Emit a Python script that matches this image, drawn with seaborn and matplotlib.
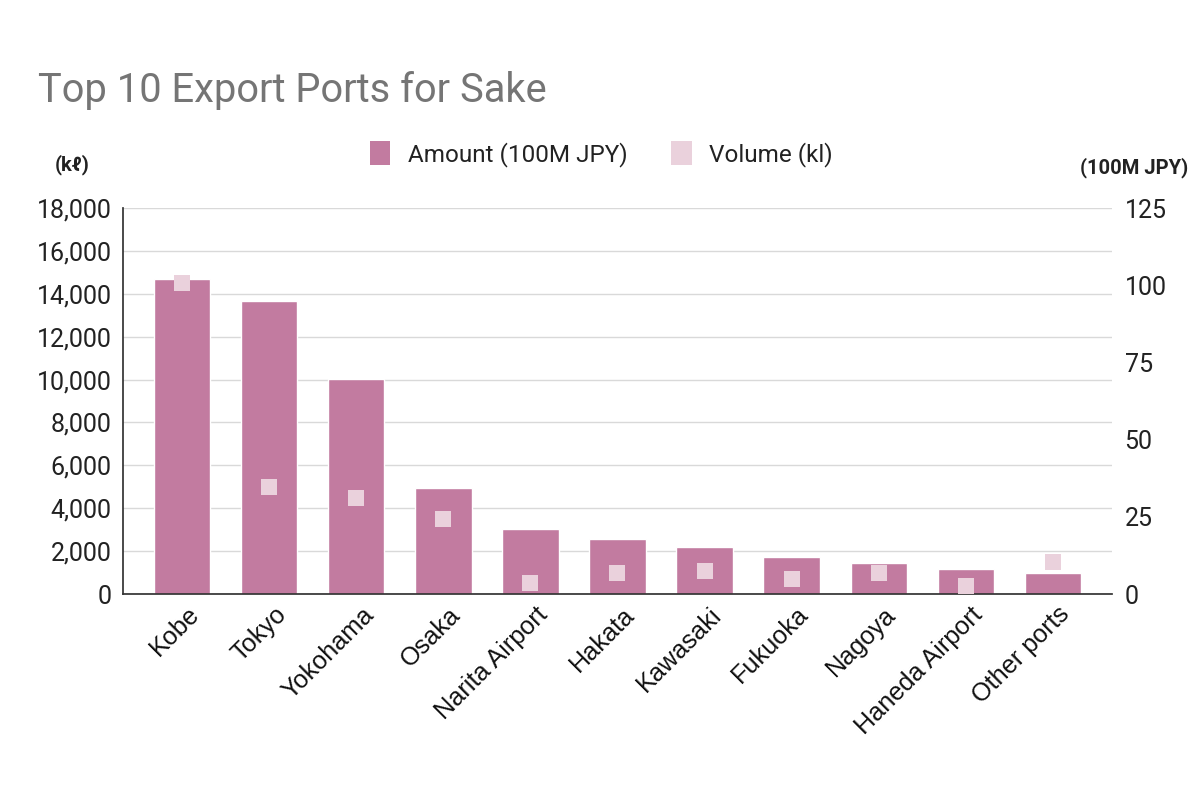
import matplotlib
matplotlib.use("Agg")
import matplotlib.pyplot as plt
import matplotlib.transforms as mtrans
from matplotlib.patches import Patch
import seaborn as sns
import pandas as pd

ports = ["Kobe", "Tokyo", "Yokohama", "Osaka", "Narita Airport", "Hakata",
         "Kawasaki", "Fukuoka", "Nagoya", "Haneda Airport", "Other ports"]
amount = [14700, 13670, 10010, 4960, 3020, 2550, 2180, 1710, 1430, 1150, 960]
volume = [100.7, 34.6, 31.2, 24.3, 3.5, 6.9, 7.5, 4.8, 6.8, 2.6, 10.3]
left_ticks = list(range(0, 18001, 2000))
right_ticks = [0, 25, 50, 75, 100, 125]

BAR = "#c27ba0"
MARK = "#ead1dc"

df = pd.DataFrame({"port": ports, "amount": amount, "volume": volume})

sns.set_theme(style="white")
plt.rcParams["font.family"] = ["Roboto", "DejaVu Sans"]

fig = plt.figure(figsize=(12.03, 8), dpi=100)
fig.subplots_adjust(left=0.1022, right=0.9244, bottom=0.2575, top=0.74)
ax = fig.add_subplot(111)

sns.barplot(data=df, x="port", y="amount", color=BAR, width=0.644,
            saturation=1, ax=ax, zorder=2)
ax.set_ylim(0, 18000)
ax.set_yticks(left_ticks)
ax.set_yticklabels([f"{v:,}" for v in left_ticks])
ax.yaxis.grid(True, color="#d9d9d9", linewidth=1)
ax.set_axisbelow(True)
ax.set_xlabel("")
ax.set_ylabel("")
ax.tick_params(axis="y", length=0, pad=8, labelsize=18, labelcolor="#222222")
ax.tick_params(axis="x", length=0, pad=6, labelsize=18.2, labelcolor="#111111")
shift = mtrans.ScaledTranslation(5 / 100, 0, fig.dpi_scale_trans)
for lab in ax.get_xticklabels():
    lab.set_rotation(45)
    lab.set_ha("right")
    lab.set_rotation_mode("anchor")
    lab.set_family(["Liberation Sans", "DejaVu Sans"])
    lab.set_transform(lab.get_transform() + shift)
for side in ["top", "right"]:
    ax.spines[side].set_visible(False)
ax.spines["left"].set_color("#333333")
ax.spines["bottom"].set_color("#333333")

ax2 = ax.twinx()
sns.stripplot(data=df, x="port", y="volume", color=MARK, marker="s", size=12,
              jitter=False, linewidth=0, ax=ax2, zorder=3)
ax2.set_ylim(0, 125)
ax2.set_yticks(right_ticks)
ax2.set_xlabel("")
ax2.set_ylabel("")
ax2.tick_params(axis="y", length=0, pad=9, labelsize=18, labelcolor="#222222")
ax2.tick_params(axis="x", length=0, labelbottom=False)
for side in ["top", "right", "left", "bottom"]:
    ax2.spines[side].set_visible(False)

# seaborn resets the shared x range, so set it last
ax.set_xlim(-0.684, len(ports) - 1 + 0.684)
ax2.set_xlim(-0.684, len(ports) - 1 + 0.684)

fig.text(38 / 1203, 1 - 102 / 800, "Top 10 Export Ports for Sake",
         fontsize=28.7, color="#757575", ha="left", va="baseline")
fig.text(55 / 1203, 1 - 165 / 800, "(kℓ)", fontsize=14.5, fontweight="bold",
         color="#222222", ha="left", va="center")
fig.text(1188 / 1203, 1 - 168 / 800, "(100M JPY)", fontsize=14.5,
         fontweight="bold", color="#222222", ha="right", va="center")

handles = [Patch(facecolor=BAR, edgecolor="none", label="Amount (100M JPY)"),
           Patch(facecolor=MARK, edgecolor="none", label="Volume (kl)")]
fig.legend(handles=handles, loc="center", bbox_to_anchor=(601 / 1203, 1 - 154 / 800),
           ncol=2, frameon=False, fontsize=17.5, handlelength=0.85, handleheight=1.1,
           handletextpad=0.7, columnspacing=1.8, labelcolor="#222222")

fig.savefig("out.png", dpi=100)
